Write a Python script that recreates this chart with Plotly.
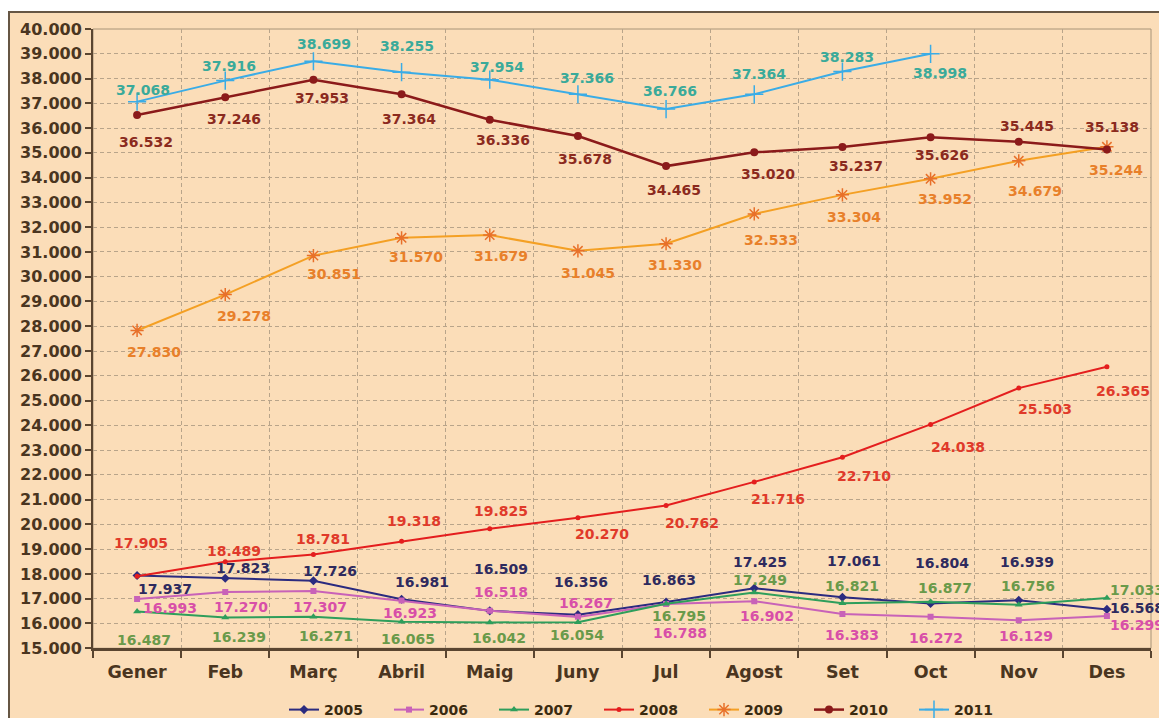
import plotly.graph_objects as go

# ---------------- data ----------------
MONTHS = ["Gener", "Feb", "Març", "Abril", "Maig", "Juny", "Jul", "Agost", "Set", "Oct", "Nov", "Des"]

Y2005 = [17937, 17823, 17726, 16981, 16509, 16356, 16863, 17425, 17061, 16804, 16939, 16568]
Y2006 = [16993, 17270, 17307, 16923, 16518, 16267, 16788, 16902, 16383, 16272, 16129, 16299]
Y2007 = [16487, 16239, 16271, 16065, 16042, 16054, 16795, 17249, 16821, 16877, 16756, 17033]
Y2008 = [17905, 18489, 18781, 19318, 19825, 20270, 20762, 21716, 22710, 24038, 25503, 26365]
Y2009 = [27830, 29278, 30851, 31570, 31679, 31045, 31330, 32533, 33304, 33952, 34679, 35244]
Y2010 = [36532, 37246, 37953, 37364, 36336, 35678, 34465, 35020, 35237, 35626, 35445, 35138]
Y2011 = [37068, 37916, 38699, 38255, 37954, 37366, 36766, 37364, 38283, 38998]

SERIES_NAMES = ["2005", "2006", "2007", "2008", "2009", "2010", "2011"]
SERIES_VALUES = [Y2005, Y2006, Y2007, Y2008, Y2009, Y2010, Y2011]

# ---------------- styles ----------------
LINE_COLORS = ["#2B2B7F", "#C862B8", "#2E9E5B", "#E41E1E", "#F4A024", "#8B1A1A", "#3AACE6"]
MARKER_COLORS = ["#2B2B7F", "#C862B8", "#2E9E5B", "#E41E1E", "#E8702A", "#8B1A1A", "#3AACE6"]
LABEL_COLORS = ["#2E2A5E", "#D84FA8", "#6A9A4A", "#E03A2A", "#E8802A", "#8B2A1E", "#3AAA9A"]
SYMBOLS = ["diamond", "square", "triangle-up", "circle", "asterisk-open", "circle", "cross-thin-open"]
MSIZES = [7, 6, 7, 5, 11, 8, 13]
LWIDTHS = [2, 2, 2, 2, 2, 2.5, 2]

# label offsets in screen pixels (dx right, dy down); "L" = text anchored on its left edge
LABEL_OFFS = [
    [(28, 13), (18, -10), (17, -10), (20, -17), (11, -42), (3, -33), (3, -22), (6, -26), (12, -36), (11, -41), (8, -38), ("L", -1)],
    [(33, 9), (16, 15), (7, 16), (8, 12), (11, -19), (8, -14), (14, 29), (13, 15), (10, 21), (5, 21), (7, 16), ("L", 9)],
    [(7, 29), (14, 19), (13, 19), (6, 17), (9, 16), (-1, 13), (13, 12), (6, -13), (10, -17), (14, -14), (9, -19), ("L", -8)],
    [(4, -33), (9, -11), (10, -16), (12, -20), (11, -18), (24, 16), (26, 17), (24, 17), (22, 19), (27, 23), (26, 21), (16, 24)],
    [(17, 22), (19, 21), (21, 18), (14, 19), (11, 21), (10, 22), (9, 21), (17, 26), (12, 22), (14, 20), (16, 30), (9, 23)],
    [(9, 27), (9, 22), (9, 18), (7, 25), (13, 20), (7, 23), (8, 24), (14, 22), (14, 19), (11, 18), (8, -16), (5, -22)],
    [(6, -12), (4, -15), (11, -17), (5, -26), (7, -13), (9, -16), (4, -18), (5, -20), (5, -15), (9, 19)],
]

BG = "#FBDDB8"
AXIS_COL = "#5A4530"
GRID_COL = "#B8A48A"
TEXT_COL = "#4A3520"
FONT = "DejaVu Sans"

# the page body has an 8px margin; layout is given in window pixels and shifted by it
OFF = 8
WIN_W, WIN_H = 1167, 718
W, H = WIN_W - OFF, WIN_H - OFF
PL, PR, PT, PB = 93 - OFF, 1151 - OFF, 29 - OFF, 650 - OFF  # plot area (figure pixels)


def fmt(v):
    return f"{v:,}".replace(",", ".")


def px_x(p):  # window pixel -> paper x
    return (p - OFF - PL) / (PR - PL)


def px_y(p):  # window pixel -> paper y
    return (PB - (p - OFF)) / (PB - PT)


fig = go.Figure()

for k, name in enumerate(SERIES_NAMES):
    vals = SERIES_VALUES[k]
    fig.add_trace(go.Scatter(
        x=MONTHS[:len(vals)], y=vals, name=name, mode="lines+markers",
        line=dict(color=LINE_COLORS[k], width=LWIDTHS[k]),
        marker=dict(symbol=SYMBOLS[k], size=MSIZES[k], color=MARKER_COLORS[k],
                    line=dict(color=MARKER_COLORS[k], width=1.5 if "open" in SYMBOLS[k] else 0)),
    ))

annotations = []
for k, name in enumerate(SERIES_NAMES):
    vals = SERIES_VALUES[k]
    for i, v in enumerate(vals):
        dx, dy = LABEL_OFFS[k][i]
        a = dict(x=MONTHS[i], y=v, xref="x", yref="y", text=fmt(v), showarrow=False,
                 font=dict(family=FONT, size=14, color=LABEL_COLORS[k], weight="bold"),
                 yshift=-dy)
        if dx == "L":
            a.update(xanchor="left", xshift=1)
        else:
            a.update(xanchor="center", xshift=dx)
        annotations.append(a)

shapes = [
    dict(type="rect", xref="paper", yref="paper", layer="below",
         x0=px_x(9), x1=px_x(1180), y0=px_y(740), y1=px_y(12),
         fillcolor=BG, line=dict(color="#665644", width=2)),
    dict(type="rect", xref="paper", yref="paper", layer="below",
         x0=0, x1=1, y0=0, y1=1, line=dict(color="#A89478", width=1)),
]

fig.update_layout(
    width=W, height=H,
    margin=dict(l=PL, r=W - PR, t=PT, b=H - PB),
    paper_bgcolor="white", plot_bgcolor=BG,
    separators=",.",
    showlegend=True,
    legend=dict(orientation="h", xref="container", yref="container",
                x=(651.5 - OFF) / W, xanchor="center",
                y=(WIN_H - 710) / H, yanchor="middle",
                font=dict(family=FONT, size=14, color="#3A2A10", weight="bold"),
                bgcolor="rgba(0,0,0,0)", entrywidth=60, entrywidthmode="pixels"),
    annotations=annotations,
    shapes=shapes,
    font=dict(family=FONT),
)

fig.update_xaxes(
    type="category", categoryorder="array", categoryarray=MONTHS,
    tickson="boundaries", ticks="outside", ticklen=7, tickwidth=2, tickcolor=AXIS_COL,
    showline=True, linecolor=AXIS_COL, linewidth=2.5,
    showgrid=True, gridcolor=GRID_COL, gridwidth=1, griddash="4px,3px",
    tickfont=dict(family=FONT, size=17.5, color=TEXT_COL, weight="bold"),
    ticklabelstandoff=6,
    range=[-0.5, 11.5], zeroline=False, fixedrange=True,
)
fig.update_yaxes(
    range=[15000, 40000], dtick=1000, tick0=15000, tickformat=",d",
    ticks="outside", ticklen=6, tickwidth=2, tickcolor=AXIS_COL,
    showline=True, linecolor=AXIS_COL, linewidth=2,
    showgrid=True, gridcolor=GRID_COL, gridwidth=1, griddash="4px,3px",
    tickfont=dict(family=FONT, size=16, color=TEXT_COL, weight="bold"),
    zeroline=False, fixedrange=True,
)

fig.write_html("out.html")
